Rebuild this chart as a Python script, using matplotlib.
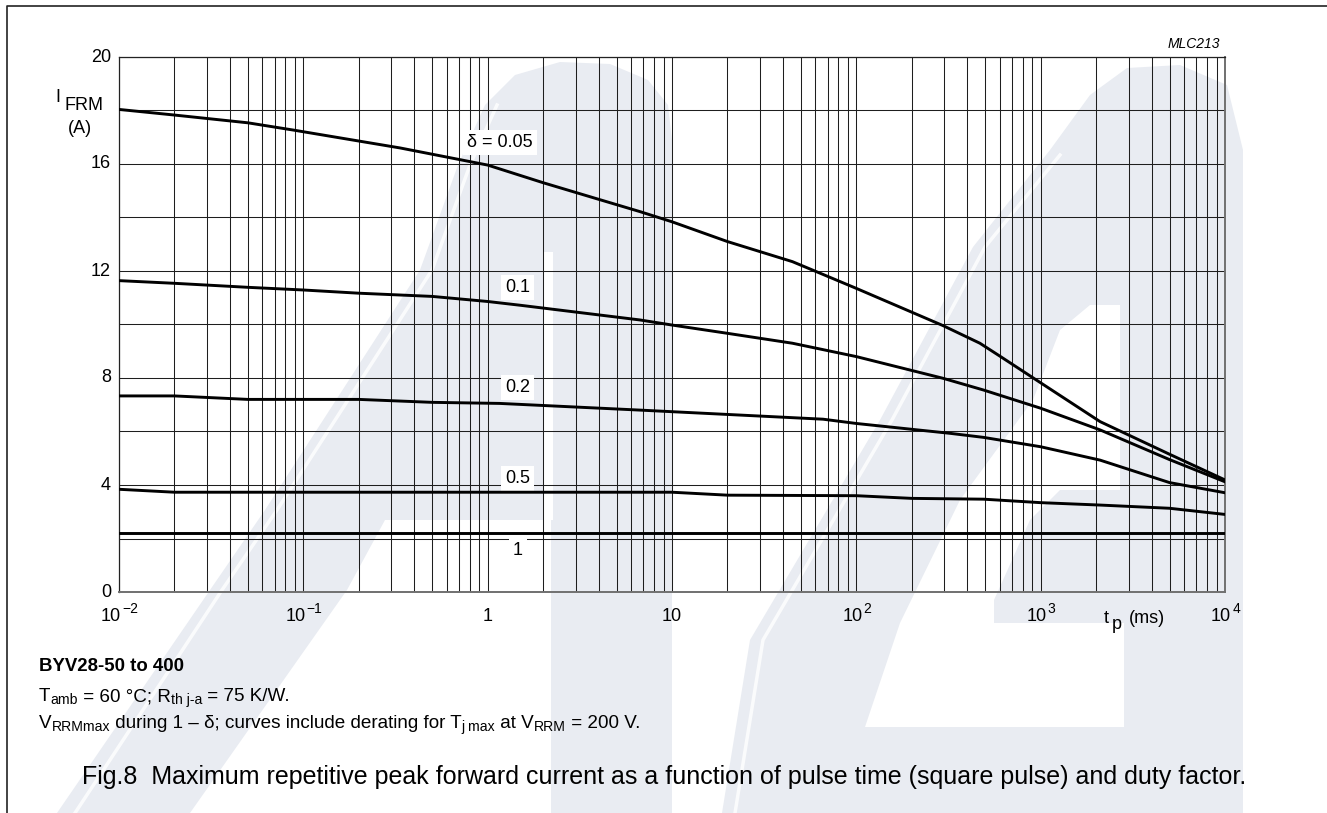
import matplotlib
matplotlib.use("Agg")
import matplotlib.pyplot as plt
from matplotlib.patches import Polygon
from matplotlib.lines import Line2D
from matplotlib.font_manager import FontProperties
from matplotlib.ticker import LogLocator, MultipleLocator, NullFormatter, NullLocator
from matplotlib.transforms import Affine2D, blended_transform_factory

plt.rcParams['font.family'] = ['Liberation Sans', 'DejaVu Sans']

# ---------------------------------------------------------------------------
# I_FRM (A) versus pulse time t_p (ms) for several duty factors
# ---------------------------------------------------------------------------
tp_d005 = [0.01, 0.02, 0.05, 0.088, 0.335, 1.0, 2.0, 4.0, 6.7, 10, 20, 45, 61,
           100, 295, 468, 600, 1000, 2100, 5000, 10000]
ifrm_d005 = [18.04, 17.83, 17.54, 17.27, 16.6, 15.96, 15.30, 14.68, 14.22, 13.84,
             13.10, 12.35, 11.97, 11.35, 9.96, 9.30, 8.82, 7.82, 6.37, 5.15, 4.19]

tp_d01 = [0.01, 0.02, 0.05, 0.1, 0.2, 0.5, 1.0, 1.5, 6.7, 10, 20, 45, 100,
          295, 490, 1000, 2100, 5000, 10000]
ifrm_d01 = [11.64, 11.54, 11.39, 11.29, 11.17, 11.05, 10.86, 10.72, 10.17, 9.98,
            9.67, 9.30, 8.80, 7.99, 7.55, 6.87, 6.06, 4.95, 4.12]

tp_d02 = [0.01, 0.02, 0.05, 0.2, 0.5, 1.16, 6.7, 66, 100, 324, 490, 1000, 2100,
          5000, 10000]
ifrm_d02 = [7.33, 7.33, 7.20, 7.20, 7.09, 7.05, 6.80, 6.46, 6.30, 5.93, 5.78,
            5.43, 4.93, 4.09, 3.71]

tp_d05 = [0.01, 0.02, 10, 20, 100, 200, 490, 1000, 2100, 5000, 10000]
ifrm_d05 = [3.84, 3.73, 3.73, 3.62, 3.60, 3.50, 3.47, 3.34, 3.25, 3.13, 2.90]

tp_d1 = [0.01, 10000]
ifrm_d1 = [2.19, 2.19]

curve_labels = ['\u03b4 = 0.05', '0.1', '0.2', '0.5', '1']

y_ticks = [0, 4, 8, 12, 16, 20]
x_ticks = [1e-2, 1e-1, 1, 10, 1e2, 1e3, 1e4]
x_tick_base = ['10', '10', '1', '10', '10', '10', '10']
x_tick_exp = ['\u22122', '\u22121', '', '', '2', '3', '4']

# ---------------------------------------------------------------------------
W, H = 1327, 813
fig = plt.figure(figsize=(W / 100, H / 100), dpi=100)
fig.patch.set_facecolor('white')
pix = Affine2D().scale(1, -1).translate(0, H)   # top-left pixel coordinates
renderer = fig.canvas.get_renderer()


def advance(s, fp):
    w1, _, _ = renderer.get_text_width_height_descent(s + '|', fp, ismath=False)
    w2, _, _ = renderer.get_text_width_height_descent('|', fp, ismath=False)
    return w1 - w2


# faint background logo
LOGO = '#e9ecf2'
logo_outer_a = [(57, 813), (210, 590), (265, 510), (420, 270), (458, 165), (485, 105),
                (515, 75), (560, 62), (610, 64), (648, 80), (668, 105), (672, 140),
                (672, 813)]
logo_counter_a = [(190, 813), (347, 590), (385, 520), (551, 520), (551, 813)]
logo_slit_a = [(543, 252), (553, 252), (553, 520), (543, 520)]
logo_outer_b = [(722, 813), (750, 640), (880, 420), (973, 247), (1050, 150), (1090, 95),
                (1127, 68), (1180, 65), (1227, 85), (1243, 150), (1243, 813)]
logo_counter_b = [(865, 727), (900, 623), (960, 500), (1033, 400), (1060, 330),
                  (1090, 305), (1120, 305), (1120, 490), (1060, 490), (1030, 520),
                  (994, 600), (994, 623), (1124, 623), (1124, 727)]
for pts, col in [(logo_outer_a, LOGO), (logo_counter_a, 'white'), (logo_slit_a, 'white'),
                 (logo_outer_b, LOGO), (logo_counter_b, 'white')]:
    fig.add_artist(Polygon(pts, closed=True, fc=col, ec='none', transform=pix, zorder=-5))
for pts in [[(75, 813), (222, 590), (277, 510), (432, 270), (470, 165), (497, 105)],
            [(735, 813), (763, 640), (892, 420), (985, 247), (1060, 155)]]:
    fig.add_artist(Line2D([p[0] for p in pts], [p[1] for p in pts], color='white',
                          lw=2.5, alpha=0.8, transform=pix, zorder=-4))

# outer frame (top and left edges)
fig.add_artist(Line2D([7, 7, W], [H, 6, 6], color='#222222', lw=1.2, transform=pix))

# plot area
L, R, T, B = 119, 1225, 57, 592
ax = fig.add_axes([L / W, 1 - B / H, (R - L) / W, (B - T) / H])
ax.set_facecolor('none')
ax.set_xscale('log')
ax.set_xlim(1e-2, 1e4)
ax.set_ylim(0, 20)

ax.xaxis.set_major_locator(LogLocator(base=10, numticks=20))
ax.xaxis.set_minor_locator(LogLocator(base=10, subs=range(2, 10), numticks=100))
ax.xaxis.set_major_formatter(NullFormatter())
ax.xaxis.set_minor_formatter(NullFormatter())
ax.yaxis.set_major_locator(MultipleLocator(2))
ax.yaxis.set_minor_locator(NullLocator())
ax.yaxis.set_major_formatter(NullFormatter())
ax.tick_params(which='both', length=0)
ax.set_axisbelow(True)
ax.grid(True, which='both', axis='x', color='#1e1e1e', lw=0.75)
ax.grid(True, which='major', axis='y', color='#1e1e1e', lw=0.75)
for side in ['top', 'left']:
    ax.spines[side].set_color('#222222')
    ax.spines[side].set_linewidth(0.9)
for side in ['bottom', 'right']:
    ax.spines[side].set_color('#707070')
    ax.spines[side].set_linewidth(1.4)

series = [(tp_d005, ifrm_d005), (tp_d01, ifrm_d01), (tp_d02, ifrm_d02),
          (tp_d05, ifrm_d05), (tp_d1, ifrm_d1)]
for tp, cur in series:
    ax.plot(tp, cur, color='black', lw=2.1, solid_joinstyle='round', zorder=3)

# curve annotations with white backing
label_pos = [(1.17, 16.8), (1.46, 11.4), (1.46, 7.66), (1.46, 4.26), (1.46, 1.57)]
for text, (lx, ly) in zip(curve_labels, label_pos):
    ax.text(lx, ly, text, fontsize=13, ha='center', va='center', zorder=2.5,
            bbox=dict(boxstyle='square,pad=0.22', fc='white', ec='none'))

# x tick labels: base plus raised exponent, centred on the tick
fp_base = FontProperties(family='Liberation Sans', size=13)
fp_exp = FontProperties(family='Liberation Sans', size=10)
for xv, base, ex in zip(x_ticks, x_tick_base, x_tick_exp):
    wb = advance(base, fp_base)
    we = advance(ex, fp_exp) if ex else 0.0
    xc = ax.transData.transform((xv, 0))[0]
    x0 = xc - (wb + we) / 2
    fig.text(x0, 621, base, transform=pix, fontproperties=fp_base, ha='left',
             va='baseline')
    if ex:
        fig.text(x0 + wb + 1, 613, ex, transform=pix, fontproperties=fp_exp,
                 ha='left', va='baseline')

ylab_tr = blended_transform_factory(pix, ax.transData)
for yv in y_ticks:
    ax.text(111, yv, str(yv), transform=ylab_tr, fontsize=13, ha='right',
            va='center', clip_on=False)

# axis titles
fig.text(55, 102, 'I', transform=pix, fontsize=13, ha='left', va='baseline')
fig.text(65, 110, 'FRM', transform=pix, fontsize=13, ha='left', va='baseline')
fig.text(80, 133, '(A)', transform=pix, fontsize=13, ha='center', va='baseline')
fig.text(1104, 623, 't', transform=pix, fontsize=13, ha='left', va='baseline')
fig.text(1112, 629, 'p', transform=pix, fontsize=13, ha='left', va='baseline')
fig.text(1129, 623, '(ms)', transform=pix, fontsize=13, ha='left', va='baseline')
fig.text(1220, 48, 'MLC213', transform=pix, fontsize=10, style='italic',
         ha='right', va='baseline')


# notes under the chart
def rich_line(x, y, parts, size, weight='normal'):
    for s, sub in parts:
        fp = FontProperties(family='Liberation Sans', size=size * 0.74 if sub else size,
                            weight=weight)
        fig.text(x, y + (3 if sub else 0), s, fontproperties=fp, transform=pix,
                 ha='left', va='baseline')
        x += advance(s, fp)


rich_line(39, 671, [('BYV28-50 to 400', False)], 13.4, weight='bold')
rich_line(39, 701, [('T', False), ('amb', True), (' = 60 \u00b0C; R', False),
                    ('th j-a', True), (' = 75 K/W.', False)], 13.6)
rich_line(39, 728, [('V', False), ('RRMmax', True),
                    (' during 1 \u2013 \u03b4; curves include derating for T', False),
                    ('j max', True), (' at V', False), ('RRM', True), (' = 200 V.', False)],
          13.6)

fig.text(82, 784, 'Fig.8  Maximum repetitive peak forward current as a function of '
         'pulse time (square pulse) and duty factor.', transform=pix, fontsize=18,
         ha='left', va='baseline')

fig.savefig('out.png', dpi=100, facecolor='white')
